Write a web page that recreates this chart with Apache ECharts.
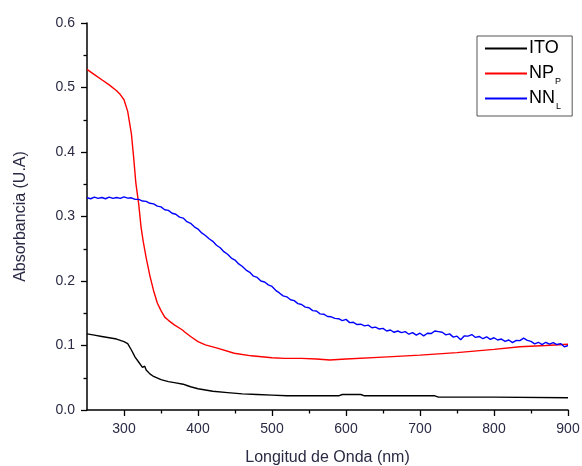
<!DOCTYPE html>
<html>
<head>
<meta charset="utf-8">
<script src="https://cdn.jsdelivr.net/npm/echarts@6/dist/echarts.min.js"></script>
<style>html,body{margin:0;padding:0;background:#fff}#c{width:582px;height:466px}</style>
</head>
<body>
<div id="c"></div>
<script>
// ---- data ----
var seriesNames = ['ITO', 'NP_P', 'NN_L'];
var xTicks = [300, 400, 500, 600, 700, 800, 900];
var xMinorTicks = [350, 450, 550, 650, 750, 850];

var wlITO = [250,260,270,280,290,300,305,310,315,320,325,328,330,335,340,350,360,370,380,385,390,400,420,440,460,480,500,520,560,590,595,620,625,700,720,725,800,900];
var absITO = [0.118,0.116,0.114,0.112,0.110,0.106,0.103,0.093,0.082,0.074,0.066,0.068,0.062,0.056,0.052,0.047,0.044,0.042,0.040,0.038,0.036,0.033,0.029,0.027,0.025,0.024,0.023,0.022,0.022,0.022,0.024,0.024,0.022,0.022,0.022,0.020,0.020,0.019];

var wlNPP = [250,260,270,280,290,295,300,305,310,313,316,320,323,326,330,335,340,345,350,355,360,368,379,382,390,400,410,426,449,472,500,517,540,560,578,600,650,700,750,800,835,870,900];
var absNPP = [0.528,0.520,0.512,0.504,0.495,0.489,0.481,0.463,0.428,0.392,0.352,0.318,0.284,0.261,0.236,0.208,0.185,0.166,0.154,0.144,0.139,0.132,0.124,0.121,0.114,0.106,0.101,0.096,0.088,0.084,0.081,0.080,0.080,0.079,0.0776,0.079,0.082,0.085,0.089,0.094,0.098,0.100,0.102];

var wlNNL = [250,255,260,265,270,275,280,285,290,295,300,305,310,315,320,325,330,335,340,345,350,355,360,365,370,375,380,385,390,395,400,405,410,415,420,425,430,435,440,445,450,455,460,465,470,475,480,485,490,495,500,505,510,515,520,525,530,535,540,545,550,555,560,565,570,575,580,585,590,595,600,605,610,615,620,625,630,635,640,645,650,655,660,665,670,675,680,685,690,695,700,705,710,715,720,725,730,735,740,745,750,755,760,765,770,775,780,785,790,795,800,805,810,815,820,825,830,835,840,845,850,855,860,865,870,875,880,885,890,895,900];
var absNNL = [0.3290,0.3275,0.3300,0.3280,0.3295,0.3275,0.3300,0.3280,0.3295,0.3280,0.3305,0.3285,0.3290,0.3265,0.3265,0.3240,0.3235,0.3205,0.3195,0.3160,0.3150,0.3105,0.3095,0.3050,0.3035,0.2990,0.2975,0.2920,0.2895,0.2840,0.2805,0.2745,0.2705,0.2655,0.2615,0.2555,0.2515,0.2455,0.2415,0.2355,0.2325,0.2265,0.2225,0.2170,0.2135,0.2075,0.2055,0.2000,0.1985,0.1940,0.1915,0.1855,0.1815,0.1770,0.1755,0.1710,0.1695,0.1650,0.1635,0.1595,0.1585,0.1540,0.1535,0.1490,0.1485,0.1450,0.1445,0.1420,0.1415,0.1385,0.1405,0.1355,0.1360,0.1325,0.1330,0.1305,0.1315,0.1275,0.1285,0.1255,0.1265,0.1225,0.1240,0.1205,0.1225,0.1200,0.1215,0.1175,0.1200,0.1160,0.1190,0.1150,0.1190,0.1185,0.1225,0.1215,0.1205,0.1165,0.1180,0.1130,0.1145,0.1090,0.1150,0.1145,0.1170,0.1125,0.1140,0.1105,0.1135,0.1095,0.1120,0.1085,0.1100,0.1065,0.1085,0.1045,0.1080,0.1075,0.1115,0.1080,0.1065,0.1025,0.1050,0.1015,0.1050,0.1020,0.1045,0.1015,0.1030,0.0980,0.1000];

function pairs(xs, ys) { return xs.map(function (x, i) { return [x, ys[i]]; }); }

var FONT = 'Liberation Sans, Arial, sans-serif';
var LABEL_COLOR = '#2a2a44';

var chart = echarts.init(document.getElementById('c'), null, { renderer: 'canvas' });
chart.setOption({
  animation: false,
  backgroundColor: '#fff',
  grid: { left: 87, right: 14, top: 23, bottom: 56, containLabel: false, outerBoundsMode: 'none' },
  legend: {
    orient: 'vertical',
    left: 477, top: 36,
    padding: [0, 10, 5, 7],
    itemWidth: 42, itemHeight: 14, itemGap: 0,
    borderColor: '#555', borderWidth: 1,
    backgroundColor: '#fff',
    itemStyle: { opacity: 0 },
    data: seriesNames,
    formatter: function (n) {
      var p = n.split('_');
      return '{m|' + p[0] + '}{s|' + (p.length > 1 ? p[1] : ' ') + '}';
    },
    textStyle: {
      fontFamily: FONT, color: '#000', padding: [0, 0, 0, -3],
      rich: {
        m: { fontSize: 18, fontFamily: FONT, color: '#000', lineHeight: 18 },
        s: { fontSize: 9, fontFamily: FONT, color: '#000', padding: [16, 0, 0, 1], lineHeight: 9 }
      }
    }
  },
  xAxis: [{
    type: 'value', min: 250, max: 900,
    name: 'Longitud de Onda (nm)', nameLocation: 'middle', nameGap: 40,
    nameTextStyle: { fontFamily: FONT, fontSize: 16, color: LABEL_COLOR },
    axisLine: { show: true, onZero: false, lineStyle: { color: '#000', width: 1.5 } },
    axisTick: { show: true, inside: false, length: 6, customValues: xTicks, lineStyle: { color: '#000', width: 1.3 } },
    axisLabel: { customValues: xTicks, margin: 12, fontFamily: FONT, fontSize: 14, color: LABEL_COLOR },
    splitLine: { show: false }
  }, {
    type: 'value', min: 250, max: 900, position: 'bottom',
    axisLine: { show: false },
    axisTick: { show: true, inside: false, length: 3.5, customValues: xMinorTicks, lineStyle: { color: '#000', width: 1.3 } },
    axisLabel: { show: false },
    splitLine: { show: false }
  }],
  yAxis: {
    type: 'value', min: 0, max: 0.6, interval: 0.1,
    name: 'Absorbancia (U.A)', nameLocation: 'middle', nameGap: 58,
    nameTextStyle: { fontFamily: FONT, fontSize: 16, color: LABEL_COLOR },
    axisLine: { show: true, onZero: false, lineStyle: { color: '#000', width: 1.5 } },
    axisTick: { show: true, inside: false, length: 6, lineStyle: { color: '#000', width: 1.3 } },
    minorTick: { show: true, splitNumber: 2, length: 3.5, lineStyle: { color: '#000', width: 1.3 } },
    axisLabel: { margin: 12, fontFamily: FONT, fontSize: 14, color: LABEL_COLOR, formatter: function (v) { return v.toFixed(1); } },
    splitLine: { show: false }
  },
  series: [
    { name: seriesNames[0], type: 'line', symbol: 'none', data: pairs(wlITO, absITO), lineStyle: { color: '#000000', width: 1.4 }, itemStyle: { color: '#000000' } },
    { name: seriesNames[1], type: 'line', symbol: 'none', data: pairs(wlNPP, absNPP), lineStyle: { color: '#ff0000', width: 1.4 }, itemStyle: { color: '#ff0000' } },
    { name: seriesNames[2], type: 'line', symbol: 'none', data: pairs(wlNNL, absNNL), lineStyle: { color: '#0000ff', width: 1.4 }, itemStyle: { color: '#0000ff' } }
  ]
});
</script>
</body>
</html>
